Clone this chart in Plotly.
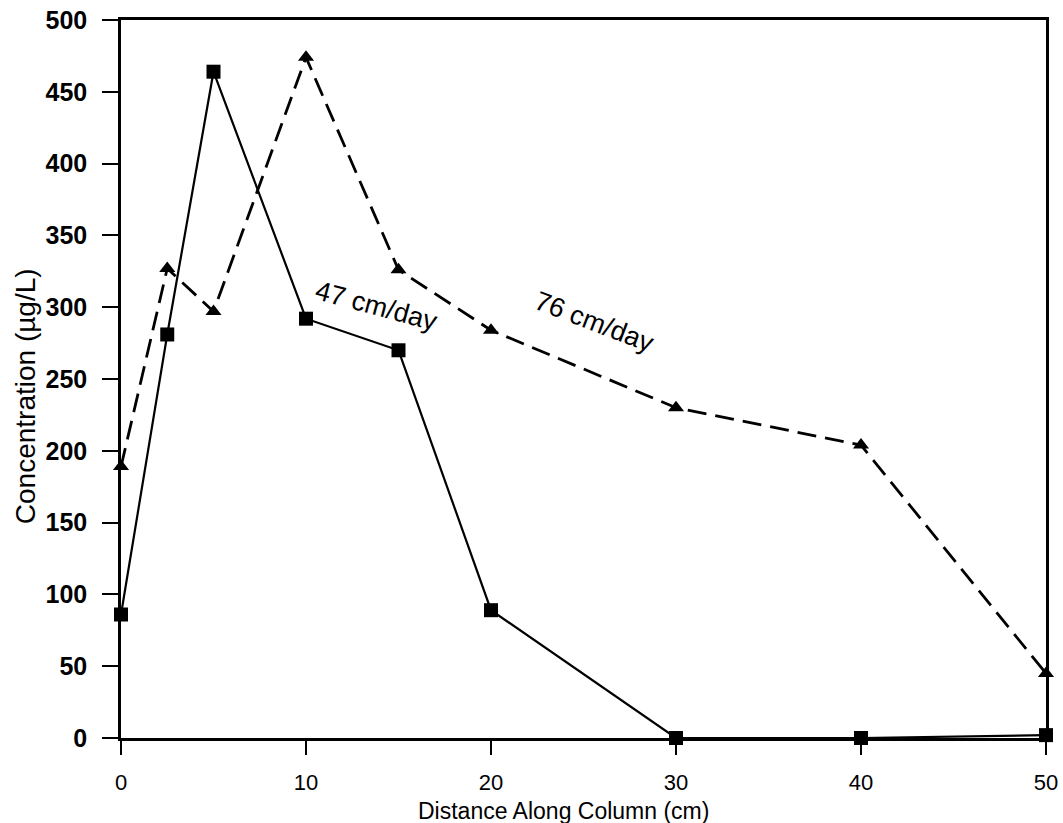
import plotly.graph_objects as go

distance = [0, 2.5, 5, 10, 15, 20, 30, 40, 50]
conc_47 = [86, 281, 464, 292, 270, 89, 0, 0, 2]
conc_76 = [189, 327, 297, 474, 326, 284, 230, 204, 45]

x_ticks = [0, 10, 20, 30, 40, 50]
y_ticks = [0, 50, 100, 150, 200, 250, 300, 350, 400, 450, 500]

FONT = "Liberation Sans, Arial, sans-serif"

fig = go.Figure()
fig.add_trace(go.Scatter(
    x=distance, y=conc_76, mode="lines+markers",
    line=dict(color="black", width=2.8, dash="19px,9px"),
    marker=dict(symbol="triangle-up", size=14, color="black"),
    name="76 cm/day", cliponaxis=False,
))
fig.add_trace(go.Scatter(
    x=distance, y=conc_47, mode="lines+markers",
    line=dict(color="black", width=2.2),
    marker=dict(symbol="square", size=14, color="black"),
    name="47 cm/day", cliponaxis=False,
))

fig.add_annotation(x=13.8, y=301, text="47 cm/day", showarrow=False,
                   textangle=15, font=dict(family=FONT, size=27, color="black"))
fig.add_annotation(x=25.6, y=290, text="76 cm/day", showarrow=False,
                   textangle=21, font=dict(family=FONT, size=27, color="black"))

fig.add_annotation(x=0.478, y=-0.102, xref="paper", yref="paper",
                   text="Distance Along Column (cm)", showarrow=False,
                   yanchor="middle",
                   font=dict(family=FONT, size=23, color="black"))
fig.add_annotation(x=-0.1038, y=0.476, xref="paper", yref="paper",
                   text="Concentration (µg/L)", showarrow=False,
                   textangle=-90, xanchor="center", yanchor="middle",
                   font=dict(family=FONT, size=28, color="black"))

fig.update_layout(
    width=1063, height=823,
    margin=dict(l=121, r=17, t=20, b=85),
    plot_bgcolor="white", paper_bgcolor="white",
    showlegend=False,
    font=dict(family=FONT, color="black"),
)
fig.update_xaxes(
    range=[0, 50], tickvals=x_ticks, ticktext=[str(v) for v in x_ticks],
    ticks="outside", ticklen=14, tickwidth=2, tickcolor="black",
    showline=True, linecolor="black", linewidth=2.5, mirror=True,
    showgrid=False, zeroline=False, automargin=False,
    ticklabelstandoff=9,
    tickfont=dict(family=FONT, size=22, color="black"),
)
fig.update_yaxes(
    range=[0, 500], tickvals=y_ticks, ticktext=[str(v) for v in y_ticks],
    ticks="outside", ticklen=16, tickwidth=2, tickcolor="black",
    showline=True, linecolor="black", linewidth=2.5, mirror=True,
    showgrid=False, zeroline=False, automargin=False,
    ticklabelstandoff=10,
    tickfont=dict(family=FONT, size=25, color="black", weight="bold"),
)

fig.write_html(
    "out.html",
    config={"displayModeBar": False},
    post_script="document.body.style.margin='0';document.body.style.overflow='hidden';",
)
